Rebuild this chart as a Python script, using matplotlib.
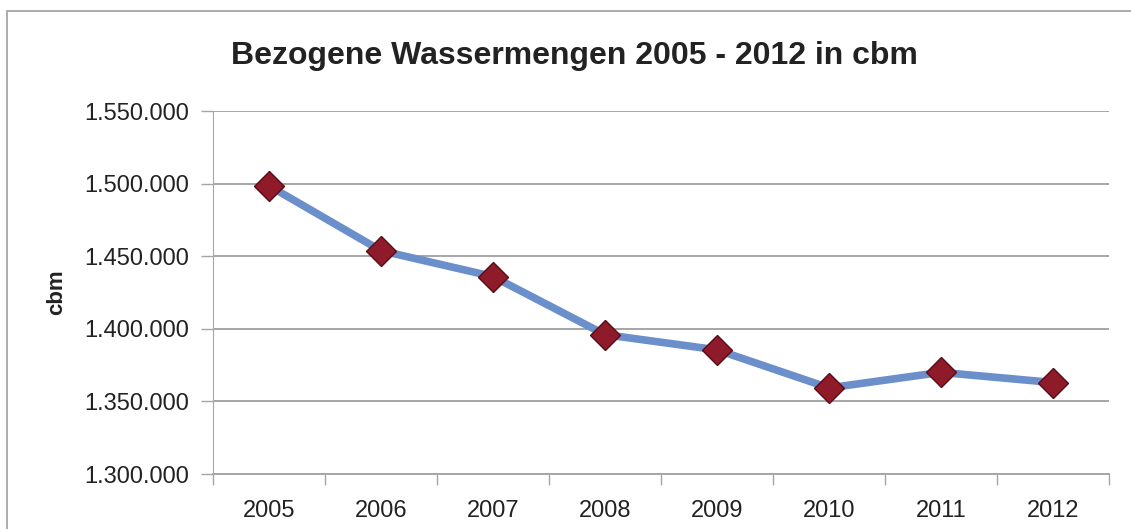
import numpy as np
import matplotlib.pyplot as plt
from matplotlib.ticker import FuncFormatter, FixedLocator
from matplotlib.patches import Rectangle

years = ["2005", "2006", "2007", "2008", "2009", "2010", "2011", "2012"]
mengen = [1498500, 1453800, 1436000, 1396000, 1385500, 1359300, 1370000, 1363000]

plt.rcParams['font.family'] = ['Liberation Sans', 'DejaVu Sans']

fig = plt.figure(figsize=(11.31, 5.29), dpi=100)
# outer chart frame (runs off the right and bottom edge)
fig.patches.append(Rectangle((7 / 1131, -0.1), 1.2, 1 - 11 / 529 + 0.1, transform=fig.transFigure,
                             fill=False, edgecolor="#a6a6a6", linewidth=1.3))
ax = fig.add_axes([213 / 1131, 1 - 474 / 529, (1109 - 213) / 1131, (474 - 111) / 529])

x = np.arange(len(years))
ax.plot(x, mengen, color="#6b8fcb", linewidth=5.5, zorder=3, solid_joinstyle="round")
ax.plot(x, mengen, linestyle="none", marker="D", markersize=15, markerfacecolor="#8e1a2a",
        markeredgecolor="#5a0d16", markeredgewidth=1.0, zorder=4)

ax.set_xlim(-0.5, len(years) - 0.5)
ax.set_ylim(1300000, 1550000)
ax.set_yticks(np.arange(1300000, 1550001, 50000))
ax.yaxis.set_major_formatter(FuncFormatter(lambda v, p: f"{int(v):,}".replace(",", ".")))
ax.set_xticks(x)
ax.set_xticklabels(years)
ax.xaxis.set_minor_locator(FixedLocator(np.arange(-0.5, len(years), 1)))
ax.tick_params(axis="x", which="major", length=0, pad=19, labelsize=17, colors="#222222")
ax.tick_params(axis="x", which="minor", length=8, width=1, color="#a6a6a6")
ax.tick_params(axis="y", length=9, width=1, color="#a6a6a6", labelsize=17, labelcolor="#222222", pad=8)

ax.grid(axis="y", color="#a6a6a6", linewidth=1.4)
ax.set_axisbelow(True)
for s in ["top", "right"]:
    ax.spines[s].set_visible(False)
ax.spines["left"].set_color("#a6a6a6")
ax.spines["bottom"].set_color("#a6a6a6")
ax.spines["bottom"].set_linewidth(1.4)

ax.set_ylabel("cbm", fontsize=16, fontweight="bold", color="#222222")
ax.yaxis.set_label_coords(-(213 - 67) / 896, 0.5)
fig.text(574 / 1131, 1 - 56 / 529, "Bezogene Wassermengen 2005 - 2012 in cbm",
         ha="center", va="center", fontsize=23, fontweight="bold", color="#222222")

plt.savefig("out.png", dpi=100)
